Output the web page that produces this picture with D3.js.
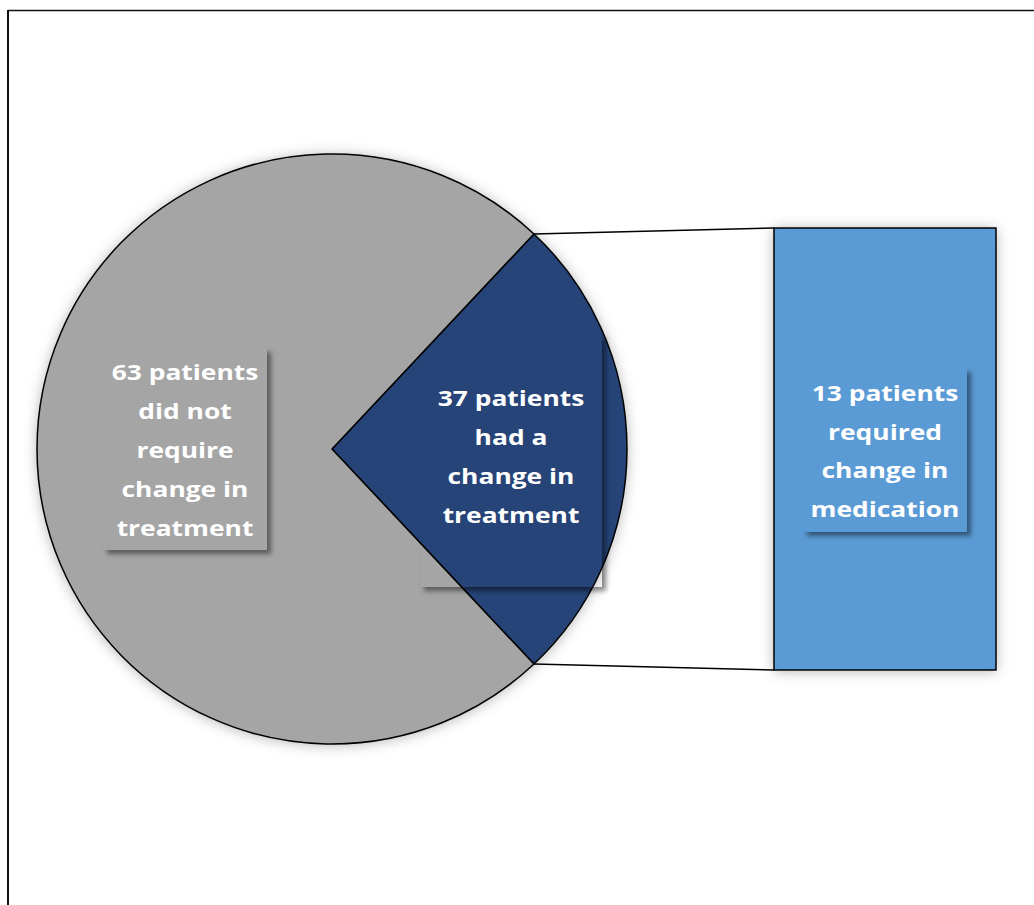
<!DOCTYPE html>
<html>
<head>
<meta charset="utf-8">
<script src="https://cdn.jsdelivr.net/npm/d3@7"></script>
<style>
  html, body { margin: 0; padding: 0; background: #fff; }
  svg { display: block; }
  text { font-family: "Open Sans", "Noto Sans", sans-serif; font-weight: 700; fill: #fff; }
</style>
</head>
<body>
<svg id="chart" width="1034" height="905"></svg>
<script>
// ---- data ----
const pieCategories = ["Did not require change in treatment", "Had a change in treatment"];
const mainValues = [37];            // plotted in the pie itself
const barCategories = ["Required change in medication"];
const barValues = [13];             // secondary bar (forms the "other" slice)
const pieColors = ["#A5A5A5", "#264478"];
const barColors = ["#5B9BD5"];
const labelGray = ["63 patients", "did not", "require", "change in", "treatment"];
const labelNavy = ["37 patients", "had a", "change in", "treatment"];
const labelBlue = ["13 patients", "required", "change in", "medication"];

// ---- layout ----
const W = 1034, H = 905;
const cx = 332, cy = 449, R = 295;
const barX0 = 774, barX1 = 996, barTop = 228, barBottom = 670;

const svg = d3.select("#chart");
const defs = svg.append("defs");

const glow = defs.append("filter").attr("id", "glow")
  .attr("x", "-20%").attr("y", "-20%").attr("width", "140%").attr("height", "140%");
glow.append("feDropShadow").attr("dx", 0).attr("dy", 1).attr("stdDeviation", 7)
  .attr("flood-color", "#000").attr("flood-opacity", 0.3);

const boxShadow = defs.append("filter").attr("id", "boxShadow")
  .attr("x", "-20%").attr("y", "-20%").attr("width", "140%").attr("height", "140%");
boxShadow.append("feGaussianBlur").attr("stdDeviation", 2.4);

// frame
svg.append("line").attr("x1", 8).attr("x2", 8).attr("y1", 10).attr("y2", H)
  .attr("stroke", "#111").attr("stroke-width", 2);
svg.append("line").attr("x1", 8).attr("x2", W).attr("y1", 10.5).attr("y2", 10.5)
  .attr("stroke", "#111").attr("stroke-width", 1.5);

// pie data: other slice first, centred on the right side
const otherValue = d3.sum(barValues);
const pieData = [
  { name: pieCategories[1], value: otherValue, color: pieColors[1] },
  { name: pieCategories[0], value: mainValues[0], color: pieColors[0] }
];
const total = d3.sum(pieData, d => d.value);
const otherSpan = 2 * Math.PI * otherValue / total;
const start = Math.PI / 2 - otherSpan / 2;
const pie = d3.pie().sort(null).value(d => d.value)
  .startAngle(start).endAngle(start + 2 * Math.PI);
const arcs = pie(pieData);
const arc = d3.arc().innerRadius(0).outerRadius(R);

// bar scale
const yBar = d3.scaleLinear().domain([0, d3.sum(barValues)]).range([barBottom, barTop]);
const xBar = d3.scaleBand().domain(["bar"]).range([barX0, barX1]).padding(0);

// shadows layer
const shadowG = svg.append("g").attr("filter", "url(#glow)");
shadowG.append("circle").attr("cx", cx).attr("cy", cy).attr("r", R).attr("fill", "#fff");
let acc = 0;
barValues.forEach(v => {
  shadowG.append("rect").attr("x", xBar("bar")).attr("width", xBar.bandwidth())
    .attr("y", yBar(acc + v)).attr("height", yBar(acc) - yBar(acc + v)).attr("fill", "#fff");
  acc += v;
});

// connector lines
const other = arcs[0];
function pt(a) { return [cx + R * Math.sin(a), cy - R * Math.cos(a)]; }
const pTop = pt(other.startAngle), pBot = pt(other.endAngle);
svg.append("line").attr("x1", pTop[0]).attr("y1", pTop[1]).attr("x2", barX0).attr("y2", yBar(d3.sum(barValues)))
  .attr("stroke", "#000").attr("stroke-width", 1.5);
svg.append("line").attr("x1", pBot[0]).attr("y1", pBot[1]).attr("x2", barX0).attr("y2", yBar(0))
  .attr("stroke", "#000").attr("stroke-width", 1.5);

// pie slices
svg.append("g").attr("transform", `translate(${cx},${cy})`)
  .selectAll("path").data(arcs).join("path")
  .attr("d", arc).attr("fill", d => d.data.color)
  .attr("stroke", "#000").attr("stroke-width", 1.5).attr("stroke-linejoin", "round");

// bar
acc = 0;
barValues.forEach((v, i) => {
  svg.append("rect").attr("x", xBar("bar")).attr("width", xBar.bandwidth())
    .attr("y", yBar(acc + v)).attr("height", yBar(acc) - yBar(acc + v))
    .attr("fill", barColors[i]).attr("stroke", "#000").attr("stroke-width", 1.5);
  acc += v;
});

// labels: transparent boxes with outer shadow (right/bottom)
const labels = [
  { lines: labelGray, x0: 103, y0: 348, x1: 267, y1: 550, tx: 185, ty: 372, dy: 39 },
  { lines: labelNavy, x0: 420, y0: 335, x1: 602, y1: 587, tx: 511, ty: 398, dy: 39 },
  { lines: labelBlue, x0: 803, y0: 368, x1: 967, y1: 532, tx: 885, ty: 393, dy: 38.7 }
];
labels.forEach((L, k) => {
  const o = 4;
  const mask = defs.append("mask").attr("id", "lm" + k).attr("maskUnits", "userSpaceOnUse")
    .attr("x", 0).attr("y", 0).attr("width", W).attr("height", H);
  mask.append("rect").attr("x", 0).attr("y", 0).attr("width", W).attr("height", H).attr("fill", "#fff");
  mask.append("rect").attr("x", L.x0).attr("y", L.y0).attr("width", L.x1 - L.x0).attr("height", L.y1 - L.y0).attr("fill", "#000");
  svg.append("g").attr("mask", `url(#lm${k})`)
    .append("rect").attr("x", L.x0 + o).attr("y", L.y0 + o)
    .attr("width", L.x1 - L.x0).attr("height", L.y1 - L.y0)
    .attr("fill", "#000").attr("fill-opacity", 0.45).attr("filter", "url(#boxShadow)");
  const t = svg.append("text").attr("text-anchor", "middle").style("font-size", "22px")
    .attr("transform", `translate(${L.tx},0) scale(1.2,1)`);
  L.lines.forEach((s, i) => {
    t.append("tspan").attr("x", 0).attr("y", L.ty + i * L.dy).attr("dy", "0.36em").text(s);
  });
});
</script>
</body>
</html>
